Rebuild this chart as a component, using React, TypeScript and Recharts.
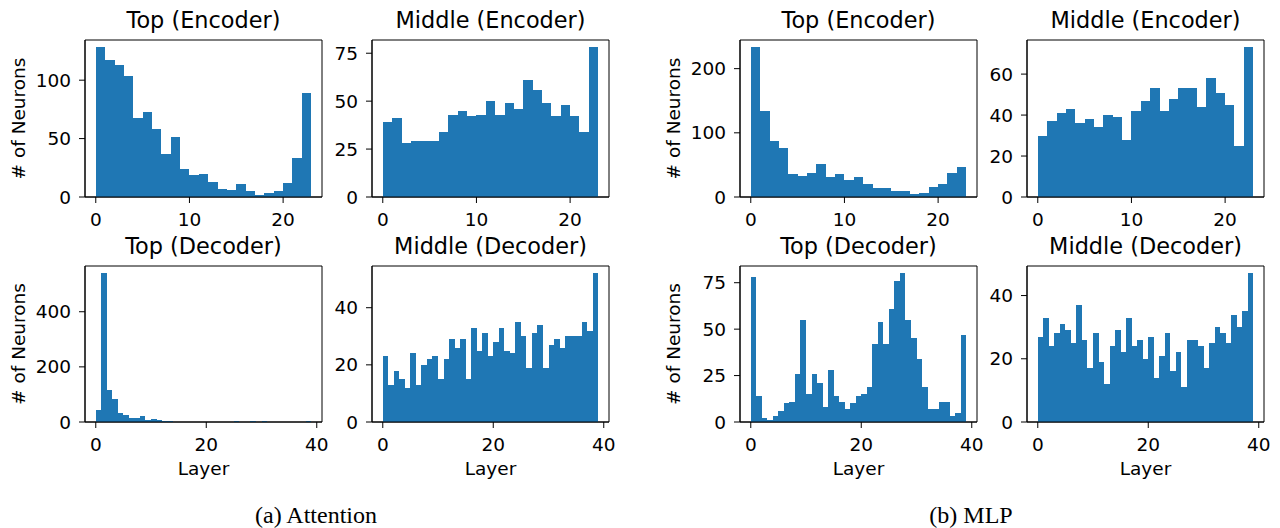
import React from 'react'
import { BarChart, Bar, XAxis, YAxis, ReferenceArea } from 'recharts'

// Neuron counts per layer bin (bin width = 1 layer, first bin starts at layer 0)
const attnTopEncoder = [128, 117, 113, 104, 68, 73, 58, 37, 51, 24, 19, 20, 13, 7, 6, 11, 5, 2, 3, 5, 12, 33, 89]
const attnMidEncoder = [39, 41, 28, 29, 29, 29, 34, 43, 45, 42, 43, 50, 43, 49, 46, 61, 56, 49, 42, 48, 42, 34, 78]
const attnTopDecoder = [
  42, 539, 115, 82, 34, 24, 13, 16, 20, 7, 10, 6, 3, 3, 0, 0, 0, 0, 0, 0,
  0, 0, 0, 0, 0, 4, 0, 0, 4, 0, 4, 0, 0, 0, 0, 0, 0, 0, 4,
]
const attnMidDecoder = [
  23, 13, 18, 15, 12, 24, 13, 20, 22, 23, 15, 22, 29, 26, 29, 15, 33, 25, 31, 23,
  28, 33, 25, 24, 35, 30, 19, 31, 34, 19, 27, 29, 26, 30, 30, 30, 35, 32, 52,
]
const mlpTopEncoder = [233, 134, 88, 76, 36, 32, 38, 51, 31, 36, 26, 31, 20, 14, 14, 9, 9, 4, 6, 15, 20, 37, 46]
const mlpMidEncoder = [30, 37, 41, 43, 36, 38, 34, 40, 39, 28, 42, 47, 53, 42, 48, 53, 53, 44, 58, 51, 45, 25, 73]
const mlpTopDecoder = [
  78, 14, 2, 1, 3, 6, 10, 11, 26, 55, 15, 26, 21, 8, 28, 14, 11, 7, 10, 14,
  15, 19, 42, 54, 42, 61, 76, 80, 55, 45, 34, 19, 7, 7, 11, 11, 3, 5, 47,
]
const mlpMidDecoder = [
  27, 33, 24, 28, 31, 29, 25, 37, 26, 17, 28, 19, 12, 24, 29, 22, 33, 24, 26, 20,
  27, 14, 21, 28, 16, 22, 11, 26, 26, 24, 17, 25, 30, 28, 25, 34, 30, 35, 47,
]

// Tick labels
const encoderLayerTicks = [0, 10, 20]
const decoderLayerTicks = [0, 20, 40]
const ticksBy50 = [0, 50, 100]
const ticksBy25 = [0, 25, 50, 75]
const ticksBy200 = [0, 200, 400]
const ticksBy20 = [0, 20, 40]
const ticksBy20To60 = [0, 20, 40, 60]
const ticksBy100 = [0, 100, 200]

const BLUE = '#1f77b4'
const SANS = '"DejaVu Sans", Verdana, sans-serif'
const SERIF = '"Liberation Serif", "Times New Roman", serif'

const PLOT_W = 237
const Y_AXIS_W = 80
const X_AXIS_H = 60
const PAD_TOP = 6
const PAD_RIGHT = 10
const TICK_FONT = 18.5
const TITLE_FONT = 22.4

interface PanelProps {
  title: string
  counts: number[]
  xTicks: number[]
  yTicks: number[]
  left: number
  top: number
  height: number
  yLabel?: boolean
  xLabel?: boolean
}

function HistPanel({ title, counts, xTicks, yTicks, left, top, height, yLabel, xLabel }: PanelProps) {
  // one row per bin, placed at the bin centre
  const data = counts.map((count, i) => ({ layer: i + 0.5, count }))
  // matplotlib-style 5% x margin, y from zero with 5% headroom
  const pad = counts.length * 0.05
  const xDomain: [number, number] = [-pad, counts.length + pad]
  const yMax = Math.max(...counts) * 1.05
  // Recharts floors its automatic bar width (gaps) and falls back to 90% when
  // barSize >= band, so ask for a hair under one layer's width
  const binPx = PLOT_W / (xDomain[1] - xDomain[0]) - 0.001

  const tickStyle = { fill: '#000', fontSize: TICK_FONT, fontFamily: SANS }

  return (
    <>
      <div
        style={{
          position: 'absolute',
          left: left - 40,
          top: top - 33,
          width: PLOT_W + 80,
          textAlign: 'center',
          fontSize: TITLE_FONT,
          lineHeight: '26px',
          whiteSpace: 'nowrap',
          fontFamily: SANS,
          color: '#000',
        }}
      >
        {title}
      </div>
      <div style={{ position: 'absolute', left: left - Y_AXIS_W, top: top - PAD_TOP }}>
        <BarChart
          width={Y_AXIS_W + PLOT_W + PAD_RIGHT}
          height={PAD_TOP + height + X_AXIS_H}
          data={data}
          margin={{ top: PAD_TOP, right: PAD_RIGHT, left: 0, bottom: 0 }}
          barCategoryGap={0}
          barGap={0}
        >
          <XAxis
            type="number"
            dataKey="layer"
            domain={xDomain}
            ticks={xTicks}
            interval={0}
            height={X_AXIS_H}
            tick={tickStyle}
            tickSize={6}
            tickMargin={10}
            tickLine={{ stroke: '#000' }}
            axisLine={{ stroke: '#000' }}
            label={
              xLabel
                ? { value: 'Layer', position: 'insideBottom', offset: 7, fill: '#000', fontSize: TICK_FONT, fontFamily: SANS }
                : undefined
            }
          />
          <YAxis
            type="number"
            domain={[0, yMax]}
            ticks={yTicks}
            interval={0}
            width={Y_AXIS_W}
            tick={tickStyle}
            tickSize={6}
            tickMargin={8}
            tickLine={{ stroke: '#000' }}
            axisLine={{ stroke: '#000' }}
            label={
              yLabel
                ? {
                    value: '# of Neurons',
                    angle: -90,
                    position: 'insideLeft',
                    offset: 13,
                    fill: '#000',
                    fontSize: TICK_FONT,
                    fontFamily: SANS,
                    style: { textAnchor: 'middle' },
                  }
                : undefined
            }
          />
          {/* crisp edges so neighbouring bins merge into one solid block */}
          <Bar dataKey="count" fill={BLUE} barSize={binPx} shapeRendering="crispEdges" isAnimationActive={false} />
          <ReferenceArea x1={xDomain[0]} x2={xDomain[1]} y1={0} y2={yMax} fill="none" stroke="#000" strokeWidth={1} />
        </BarChart>
      </div>
    </>
  )
}

function Caption({ text, center }: { text: string; center: number }) {
  return (
    <div
      style={{
        position: 'absolute',
        left: center - 150,
        width: 300,
        top: 503,
        textAlign: 'center',
        fontFamily: SERIF,
        fontSize: 24,
        lineHeight: '24px',
        color: '#000',
      }}
    >
      {text}
    </div>
  )
}

export default function App() {
  const row1 = 40
  const row2 = 266
  return (
    <div style={{ position: 'absolute', left: 0, top: 0, width: 1280, height: 528, background: '#fff', overflow: 'hidden' }}>
      <HistPanel title="Top (Encoder)" counts={attnTopEncoder} xTicks={encoderLayerTicks} yTicks={ticksBy50} left={85} top={row1} height={157} yLabel />
      <HistPanel title="Middle (Encoder)" counts={attnMidEncoder} xTicks={encoderLayerTicks} yTicks={ticksBy25} left={372} top={row1} height={157} />
      <HistPanel title="Top (Decoder)" counts={attnTopDecoder} xTicks={decoderLayerTicks} yTicks={ticksBy200} left={85} top={row2} height={156} yLabel xLabel />
      <HistPanel title="Middle (Decoder)" counts={attnMidDecoder} xTicks={decoderLayerTicks} yTicks={ticksBy20} left={372} top={row2} height={156} xLabel />

      <HistPanel title="Top (Encoder)" counts={mlpTopEncoder} xTicks={encoderLayerTicks} yTicks={ticksBy100} left={740} top={row1} height={157} yLabel />
      <HistPanel title="Middle (Encoder)" counts={mlpMidEncoder} xTicks={encoderLayerTicks} yTicks={ticksBy20To60} left={1027} top={row1} height={157} />
      <HistPanel title="Top (Decoder)" counts={mlpTopDecoder} xTicks={decoderLayerTicks} yTicks={ticksBy25} left={740} top={row2} height={156} yLabel xLabel />
      <HistPanel title="Middle (Decoder)" counts={mlpMidDecoder} xTicks={decoderLayerTicks} yTicks={ticksBy20} left={1027} top={row2} height={156} xLabel />

      <Caption text="(a) Attention" center={316} />
      <Caption text="(b) MLP" center={971} />
    </div>
  )
}
